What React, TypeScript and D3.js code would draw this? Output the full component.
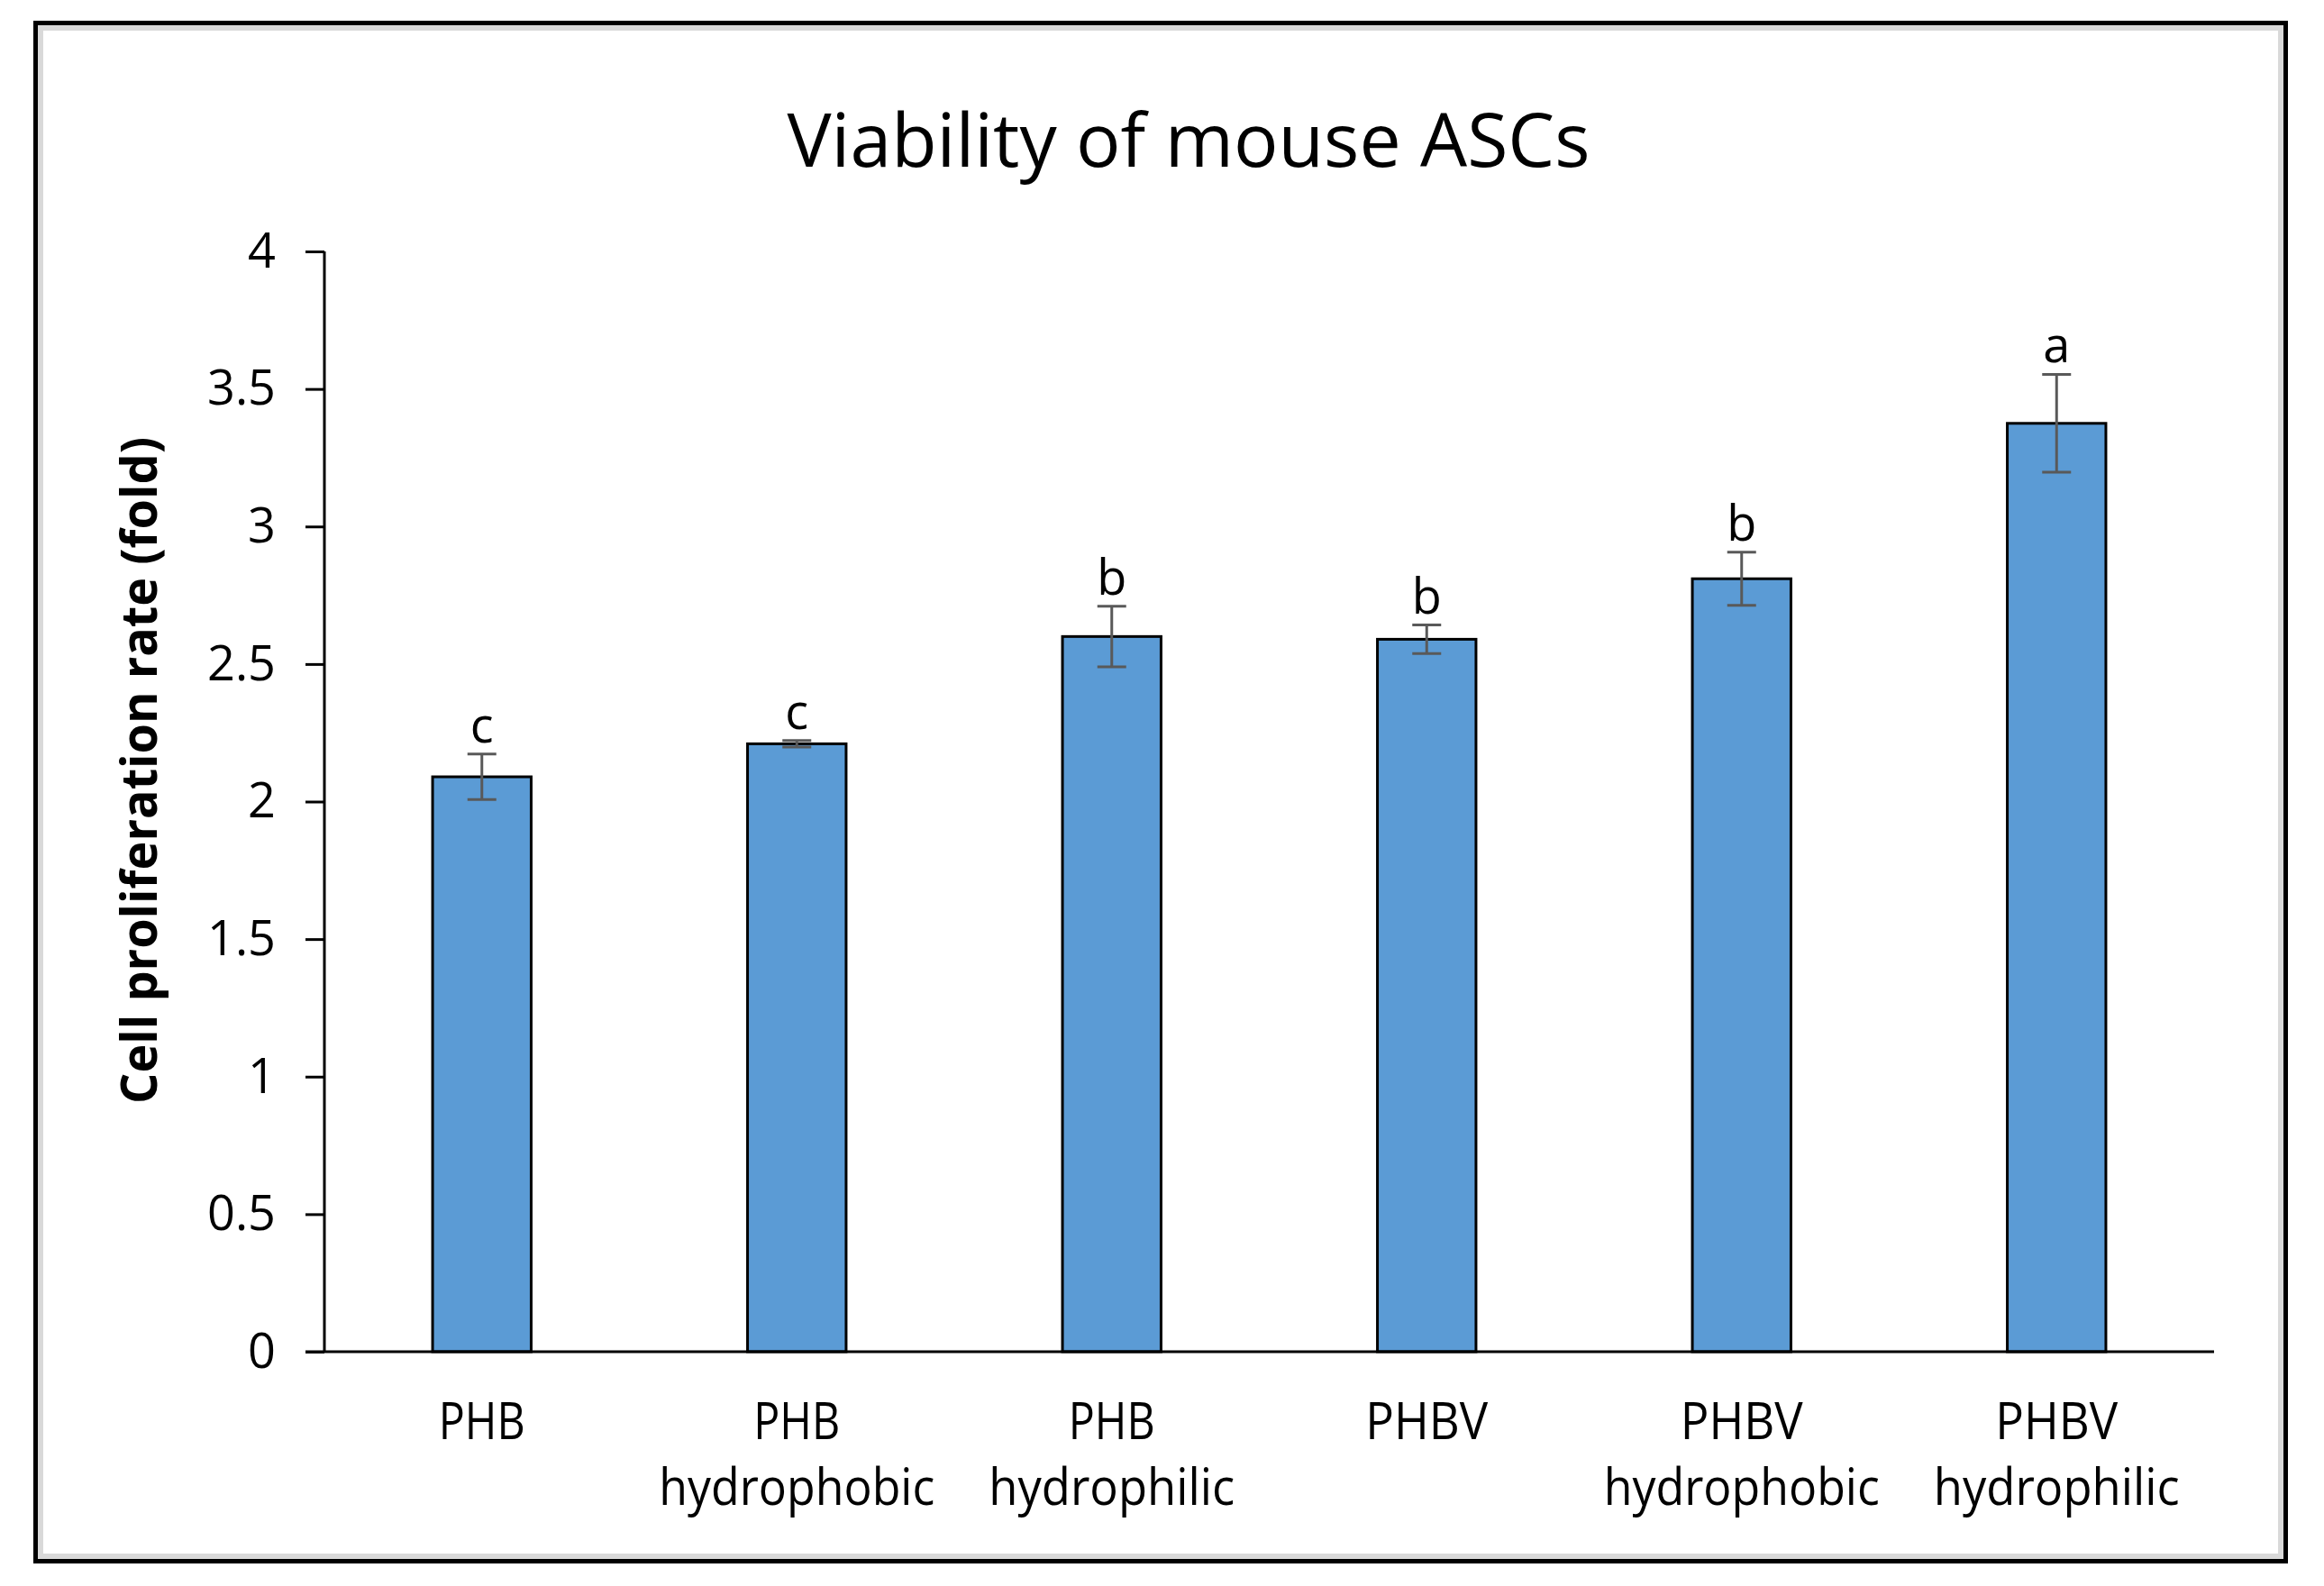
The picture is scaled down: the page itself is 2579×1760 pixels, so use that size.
import React, { useEffect, useRef } from 'react';
import * as d3 from 'd3';

// chart values
const categories = [
  'PHB',
  'PHB hydrophobic',
  'PHB hydrophilic',
  'PHBV',
  'PHBV hydrophobic',
  'PHBV hydrophilic',
];
const labelLines = [
  ['PHB'],
  ['PHB', 'hydrophobic'],
  ['PHB', 'hydrophilic'],
  ['PHBV'],
  ['PHBV', 'hydrophobic'],
  ['PHBV', 'hydrophilic'],
];
const means = [2.09, 2.21, 2.6, 2.59, 2.81, 3.375];
const errors = [0.083, 0.012, 0.11, 0.052, 0.097, 0.178];
const letters = ['c', 'c', 'b', 'b', 'b', 'a'];
const yTicks = [0, 0.5, 1, 1.5, 2, 2.5, 3, 3.5, 4];

const title = 'Viability of mouse ASCs';
const yLabel = 'Cell proliferation rate (fold)';

// target widths of the Calibri text in the original
const textWidths: Record<string, number> = {
  PHB: 96,
  PHBV: 136,
  hydrophobic: 306,
  hydrophilic: 273,
};

const FONT = "'Open Sans', 'Noto Sans', sans-serif";

const App: React.FC = () => {
  const svgRef = useRef<SVGSVGElement>(null);
  const width = 2579;
  const height = 1760;

  useEffect(() => {
    if (!svgRef.current) return;
    const svg = d3.select(svgRef.current);
    svg.selectAll('*').remove();

    svg.append('rect').attr('width', width).attr('height', height).attr('fill', '#fff');

    // outer frame: black line with a grey inner shadow
    svg.append('rect')
      .attr('x', 45).attr('y', 31)
      .attr('width', 2531 - 45).attr('height', 1727 - 31)
      .attr('fill', 'none')
      .attr('stroke', '#d9d9d9')
      .attr('stroke-width', 6);
    svg.append('rect')
      .attr('x', 39.5).attr('y', 25.5)
      .attr('width', 2536.5 - 39.5).attr('height', 1732.5 - 25.5)
      .attr('fill', 'none')
      .attr('stroke', '#000')
      .attr('stroke-width', 5);

    const plot = { left: 360, right: 2457, top: 279, bottom: 1500 };

    const x = d3.scaleBand<string>()
      .domain(categories)
      .range([plot.left, plot.right])
      .paddingInner(0.687)
      .paddingOuter(0.3435);

    const y = d3.scaleLinear().domain([0, 4]).range([plot.bottom, plot.top]);

    // title
    svg.append('text')
      .attr('x', 1319)
      .attr('y', 185)
      .attr('text-anchor', 'middle')
      .attr('font-family', FONT)
      .attr('font-size', 82)
      .attr('fill', '#000')
      .attr('textLength', 891)
      .attr('lengthAdjust', 'spacingAndGlyphs')
      .text(title);

    // y axis label
    svg.append('text')
      .attr('transform', 'translate(174,855) rotate(-90)')
      .attr('text-anchor', 'middle')
      .attr('font-family', FONT)
      .attr('font-weight', 'bold')
      .attr('font-size', 56)
      .attr('fill', '#000')
      .attr('textLength', 740)
      .attr('lengthAdjust', 'spacingAndGlyphs')
      .text(yLabel);

    // bars
    svg.append('g')
      .selectAll('rect')
      .data(categories)
      .join('rect')
      .attr('x', d => x(d)!)
      .attr('y', (d, i) => y(means[i]))
      .attr('width', x.bandwidth())
      .attr('height', (d, i) => y(0) - y(means[i]))
      .attr('fill', '#5b9bd5')
      .attr('stroke', '#000')
      .attr('stroke-width', 3);

    // error bars
    const capW = 32;
    const eb = svg.append('g').attr('stroke', '#595959').attr('stroke-width', 3);
    categories.forEach((c, i) => {
      const cx = x(c)! + x.bandwidth() / 2;
      const hi = y(means[i] + errors[i]);
      const lo = y(means[i] - errors[i]);
      eb.append('line').attr('x1', cx).attr('x2', cx).attr('y1', hi).attr('y2', lo);
      eb.append('line').attr('x1', cx - capW / 2).attr('x2', cx + capW / 2).attr('y1', hi).attr('y2', hi);
      eb.append('line').attr('x1', cx - capW / 2).attr('x2', cx + capW / 2).attr('y1', lo).attr('y2', lo);
    });

    // significance letters
    svg.append('g')
      .selectAll('text')
      .data(categories)
      .join('text')
      .attr('x', d => x(d)! + x.bandwidth() / 2)
      .attr('y', (d, i) => y(means[i] + errors[i]) - 13)
      .attr('text-anchor', 'middle')
      .attr('font-family', FONT)
      .attr('font-size', 54)
      .attr('fill', '#000')
      .text((d, i) => letters[i]);

    // y axis
    const yAxis = svg.append('g')
      .attr('transform', `translate(${plot.left},0)`)
      .call(d3.axisLeft(y).tickValues(yTicks).tickSize(21).tickPadding(33).tickFormat(d => `${d}`));
    yAxis.select('.domain').attr('stroke', '#000').attr('stroke-width', 3)
      .attr('d', `M0,${plot.top}V${plot.bottom}`);
    yAxis.selectAll('.tick line').attr('stroke', '#000').attr('stroke-width', 3);
    yAxis.selectAll('.tick text')
      .attr('font-family', FONT)
      .attr('font-size', 54)
      .attr('fill', '#000');

    // x axis line
    svg.append('line')
      .attr('x1', plot.left - 21)
      .attr('x2', plot.right)
      .attr('y1', y(0))
      .attr('y2', y(0))
      .attr('stroke', '#000')
      .attr('stroke-width', 3);

    // category labels
    const catLabels = svg.append('g')
      .selectAll('text')
      .data(categories)
      .join('text')
      .attr('text-anchor', 'middle')
      .attr('font-family', FONT)
      .attr('font-size', 56)
      .attr('fill', '#000');
    catLabels.each(function (d, i) {
      const t = d3.select(this);
      const cx = x(d)! + x.bandwidth() / 2;
      labelLines[i].forEach((line, j) => {
        t.append('tspan')
          .attr('x', cx)
          .attr('y', 1597 + j * 73)
          .attr('textLength', textWidths[line])
          .attr('lengthAdjust', 'spacingAndGlyphs')
          .text(line);
      });
    });
  }, []);

  return (
    <div style={{ position: 'absolute', left: 0, top: 0 }}>
      <svg ref={svgRef} width={width} height={height} style={{ display: 'block' }} />
    </div>
  );
};

export default App;
